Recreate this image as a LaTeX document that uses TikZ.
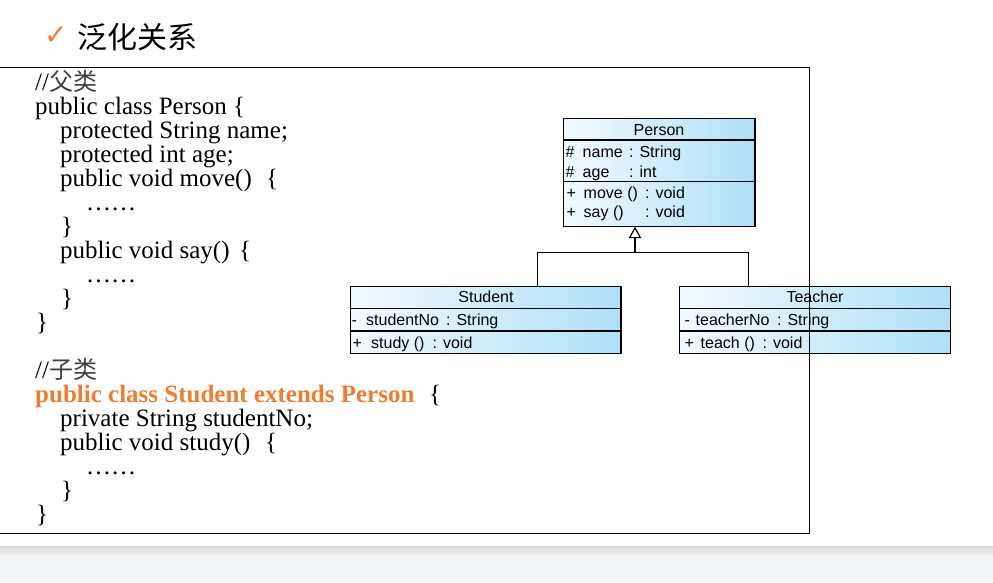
\documentclass[tikz,border=0pt]{standalone}
\usepackage{fontspec}
\setmainfont{Liberation Serif}
\newfontfamily\cjk{Noto Sans CJK SC}
\newfontfamily\umlfont{Liberation Sans}
\newfontfamily\symfont{DejaVu Sans}
\usetikzlibrary{arrows.meta}
\definecolor{accent}{HTML}{ED7D31}
\definecolor{boxL}{HTML}{F2FAFE}
\definecolor{boxR}{HTML}{AEE0F8}
\definecolor{bandTop}{HTML}{DCDCDC}
\definecolor{band}{HTML}{F4F5F7}
\definecolor{cmt}{HTML}{404040}
\begin{document}
\begin{tikzpicture}[x=1pt,y=-1pt,
  code/.style={anchor=base west, inner sep=0pt, font=\fontsize{25}{30}\selectfont},
  hot/.style={code, text=accent, font=\fontsize{25}{30}\selectfont\bfseries},
  uml/.style={anchor=base west, inner sep=0pt, font=\umlfont\fontsize{16}{19}\selectfont},
  umlc/.style={anchor=base, inner sep=0pt, font=\umlfont\fontsize{16}{19}\selectfont},
  classbox/.style={draw, line width=1.2pt, inner sep=0pt, outer sep=0pt, left color=boxL, right color=boxR},
  sep/.style={line width=1.2pt},
  conn/.style={line width=1.2pt},
  frame/.style={line width=1.3pt}]
\useasboundingbox (0,0) rectangle (993,582);
\fill[white] (0,0) rectangle (993,582);
% bottom band
\shade[top color=bandTop, bottom color=band] (0,546.7) rectangle (993,557);
\fill[band] (0,557) rectangle (993,582);
% title
\node[anchor=base west, inner sep=0pt, text=accent, font=\symfont\fontsize{28}{32}\selectfont] (chk) at (44,44) {✓};
\node[anchor=base west, inner sep=0pt, font=\cjk\fontsize{30}{34}\selectfont] (title) at (77,48) {泛化关系};
% code: parent class
\node[code] (l0) at (35,90.5) {//{\cjk\color{cmt}\fontsize{24}{28}\selectfont 父类}};
\node[code] (l1) at (35,114.5) {public class Person \{};
\node[code] (l2) at (60,138.5) {protected String name;};
\node[code] (l3) at (60,162.5) {protected int age;};
\node[code] (l4) at (60,186.5) {public void move()};
\node[code] (l4b) at (266,186.5) {\{};
\node[code] (l5) at (86,210.5) {……};
\node[code] (l6) at (61,234.5) {\}};
\node[code] (l7) at (60,258.5) {public void say()};
\node[code] (l7b) at (239,258.5) {\{};
\node[code] (l8) at (86,282.5) {……};
\node[code] (l9) at (61,306.5) {\}};
\node[code] (l10) at (36,330.5) {\}};
% code: child class
\node[code] (m0) at (35,378.5) {//{\cjk\color{cmt}\fontsize{24}{28}\selectfont 子类}};
\node[hot] (m1) at (35,402.5) {public class Student extends Person};
\node[code] (m1b) at (429,402.5) {\{};
\node[code] (m2) at (60,426.5) {private String studentNo;};
\node[code] (m3) at (60,450.5) {public void study()};
\node[code] (m3b) at (265,450.5) {\{};
\node[code] (m4) at (86,474.5) {……};
\node[code] (m5) at (61,498.5) {\}};
\node[code] (m6) at (36,522.5) {\}};
% UML boxes
\node[classbox, minimum width=191.7pt, minimum height=108.4pt] (person) at (659.15,172.5) {};
\node[classbox, minimum width=270.3pt, minimum height=66.6pt] (stu) at (485.85,320) {};
\node[classbox, minimum width=271.4pt, minimum height=66.6pt] (tea) at (815,320) {};
\coordinate (py1) at (0,140);
\coordinate (py2) at (0,181.7);
\coordinate (sy1) at (0,308.3);
\coordinate (sy2) at (0,331);
\draw[sep] (person.west |- py1) -- (person.east |- py1);
\draw[sep] (person.west |- py2) -- (person.east |- py2);
\draw[sep] (stu.west |- sy1) -- (stu.east |- sy1);
\draw[sep] (stu.west |- sy2) -- (stu.east |- sy2);
\draw[sep] (tea.west |- sy1) -- (tea.east |- sy1);
\draw[sep] (tea.west |- sy2) -- (tea.east |- sy2);
% Person texts
\node[umlc] (pn) at (659,135.3) {Person};
\node[uml] (pa1) at (565.5,157.2) {\#};
\node[uml] (pa1n) at (582.5,157.2) {name};
\node[uml] (pa1t) at (629,157.2) {: String};
\node[uml] (pa2) at (565.5,177.2) {\#};
\node[uml] (pa2n) at (582.5,177.2) {age};
\node[uml] (pa2t) at (629,177.2) {: int};
\node[uml] (po1) at (566.5,198.6) {+};
\node[uml] (po1n) at (583.5,198.6) {move ()};
\node[uml] (po1t) at (645,198.6) {: void};
\node[uml] (po2) at (566.5,217.3) {+};
\node[uml] (po2n) at (583.5,217.3) {say ()};
\node[uml] (po2t) at (645,217.3) {: void};
% Student texts
\node[umlc] (sn) at (486,302.9) {Student};
\node[uml] (sa1) at (351.5,325.6) {-};
\node[uml] (sa1n) at (366,325.6) {studentNo};
\node[uml] (sa1t) at (446,325.6) {: String};
\node[uml] (so1) at (352.3,348.3) {+};
\node[uml] (so1n) at (371,348.3) {study ()};
\node[uml] (so1t) at (432.5,348.3) {: void};
% Teacher texts
\node[umlc] (tn) at (815,302.9) {Teacher};
\node[uml] (ta1) at (684.5,325.6) {-};
\node[uml] (ta1n) at (695.5,325.6) {teacherNo};
\node[uml] (ta1t) at (777,325.6) {: String};
\node[uml] (to1) at (684.5,348.3) {+};
\node[uml] (to1n) at (700.5,348.3) {teach ()};
\node[uml] (to1t) at (762.5,348.3) {: void};
% generalization connectors
\coordinate (jn) at (635,252.3);
\coordinate (sx) at (537.3,0);
\coordinate (tx) at (748.7,0);
\draw[conn] (sx |- stu.north) -- (sx |- jn) -- (tx |- jn) -- (tx |- tea.north);
\draw[conn, -{Triangle[open, width=12.5pt, length=11.5pt]}] (jn) -- (jn |- person.south);
% frame
\draw[frame] (-3,67.3) rectangle (809.3,533.3);
\end{tikzpicture}
\end{document}
